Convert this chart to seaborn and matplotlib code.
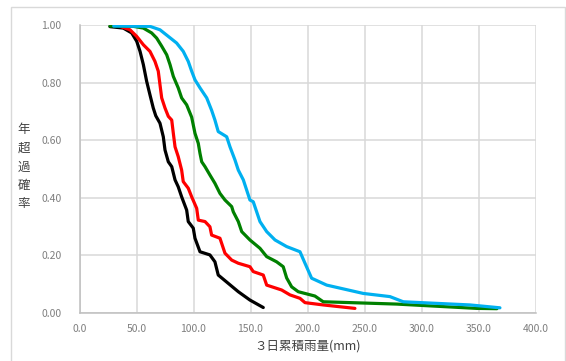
import matplotlib

matplotlib.use("Agg")
import matplotlib.pyplot as plt
import pandas as pd
import seaborn as sns
from matplotlib.patches import Rectangle

# exceedance curves (x: 3-day rainfall mm, y: probability)
black_x = [26.7, 38.4, 45.8, 50.2, 53.1, 56.0, 58.9, 61.8, 64.7, 66.9, 70.6, 73.5,
           75.0, 77.9, 80.9, 83.8, 86.6, 89.6, 94.0, 95.4, 99.8, 101.3, 105.7, 114.4,
           118.8, 121.7, 130.5, 139.3, 149.5, 161.2]
black_y = [0.995, 0.990, 0.973, 0.944, 0.909, 0.863, 0.805, 0.758, 0.712, 0.685, 0.659, 0.612,
           0.566, 0.525, 0.508, 0.462, 0.438, 0.403, 0.357, 0.317, 0.294, 0.259, 0.212, 0.201,
           0.177, 0.131, 0.102, 0.073, 0.044, 0.018]

red_x = [35.5, 44.3, 50.2, 56.0, 61.8, 66.2, 69.1, 70.6, 72.1, 75.0, 77.9, 80.9, 82.3,
         83.8, 86.6, 89.6, 91.0, 95.4, 98.4, 102.8, 104.2, 110.1, 114.4, 115.9, 123.2,
         127.6, 133.5, 139.3, 149.5, 152.4, 161.2, 164.2, 177.3, 184.6, 193.4, 197.8,
         213.8, 241.6]
red_y = [0.996, 0.984, 0.961, 0.932, 0.909, 0.874, 0.840, 0.793, 0.747, 0.712, 0.683, 0.670,
         0.624, 0.577, 0.543, 0.496, 0.456, 0.433, 0.403, 0.363, 0.322, 0.317, 0.299, 0.270,
         0.259, 0.207, 0.183, 0.172, 0.160, 0.143, 0.131, 0.096, 0.079, 0.062, 0.050, 0.035,
         0.027, 0.015]

green_x = [26.7, 47.2, 56.0, 63.3, 67.7, 72.1, 76.5, 79.4, 82.3, 86.6, 89.6, 94.0, 98.4,
           101.3, 104.2, 105.7, 107.2, 110.1, 114.4, 118.8, 123.2, 127.6, 133.5, 134.9,
           139.3, 142.3, 149.5, 158.3, 164.2, 172.9, 178.7, 181.7, 186.1, 191.9, 206.5,
           213.8, 278.2, 348.4, 366.2]
green_y = [0.997, 0.996, 0.990, 0.973, 0.955, 0.927, 0.897, 0.863, 0.822, 0.782, 0.747, 0.723,
           0.680, 0.624, 0.589, 0.554, 0.525, 0.508, 0.479, 0.450, 0.415, 0.392, 0.369, 0.351,
           0.317, 0.282, 0.253, 0.224, 0.195, 0.177, 0.160, 0.121, 0.090, 0.073, 0.058,
           0.038, 0.030, 0.015, 0.014]

cyan_x = [30.0, 61.8, 70.6, 77.9, 85.2, 91.0, 95.4, 98.4, 101.3, 105.7, 111.6, 115.9,
          118.8, 121.7, 129.1, 132.0, 136.4, 139.3, 143.7, 146.6, 149.5, 152.4, 155.4,
          158.3, 164.2, 171.5, 181.7, 193.4, 197.8, 203.6, 216.8, 248.9, 272.3, 284.0,
          342.5, 368.8]
cyan_y = [0.997, 0.996, 0.984, 0.961, 0.938, 0.909, 0.874, 0.840, 0.810, 0.782, 0.747, 0.704,
          0.670, 0.630, 0.612, 0.577, 0.531, 0.496, 0.462, 0.427, 0.392, 0.386, 0.351,
          0.317, 0.282, 0.253, 0.230, 0.212, 0.172, 0.120, 0.096, 0.067, 0.056, 0.038,
          0.027, 0.017]

x_ticks = [0, 50, 100, 150, 200, 250, 300, 350, 400]
y_ticks = [0.0, 0.2, 0.4, 0.6, 0.8, 1.0]

series = [
    ("black", black_x, black_y, "#000000"),
    ("red", red_x, red_y, "#FF0000"),
    ("green", green_x, green_y, "#008000"),
    ("cyan", cyan_x, cyan_y, "#00B0F0"),
]

frames = []
for name, xs, ys, _ in series:
    frames.append(pd.DataFrame({"rain": xs, "prob": ys, "series": name}))
df = pd.concat(frames, ignore_index=True)
palette = {name: color for name, _, _, color in series}

sns.set_theme(style="white")
plt.rcParams["font.family"] = ["Noto Sans CJK JP", "DejaVu Sans"]

fig = plt.figure(figsize=(5.66, 3.61), dpi=100)
ax = fig.add_axes([79.5 / 566, 1 - 312.7 / 361, 456 / 566, 287.5 / 361])

sns.lineplot(
    data=df, x="rain", y="prob", hue="series", palette=palette,
    sort=False, estimator=None, linewidth=2.3, legend=False, ax=ax,
)

ax.set_xlim(0, 400)
ax.set_ylim(0, 1)
ax.set_xticks(x_ticks)
ax.set_yticks(y_ticks)
ax.set_xticklabels([f"{v:.1f}" for v in x_ticks])
ax.set_yticklabels([f"{v:.2f}" for v in y_ticks])
ax.tick_params(axis="both", length=0, labelsize=7.5, labelcolor="#7F7F7F")
ax.tick_params(axis="x", pad=8)
ax.tick_params(axis="y", pad=13)
ax.grid(True, color="#D9D9D9", linewidth=1.1)
ax.set_axisbelow(True)
for side in ["top", "right"]:
    ax.spines[side].set_visible(False)
for side in ["left", "bottom"]:
    ax.spines[side].set_color("#BFBFBF")
    ax.spines[side].set_linewidth(1.1)

ax.set_xlabel("３日累積雨量(mm)", fontsize=9, color="#404040", labelpad=4)
ax.set_ylabel("")
fig.text(24 / 566, 1 - 167 / 361, "年\n超\n過\n確\n率", fontsize=9, color="#404040",
         ha="center", va="center", linespacing=1.55)

# chart-area border like the spreadsheet frame
fig.patches.append(Rectangle((11 / 566, -0.05), (565 - 11) / 566, 1.05 - 7 / 361,
                             transform=fig.transFigure, fill=False,
                             edgecolor="#D9D9D9", linewidth=1.0))

fig.savefig("out.png", dpi=100)
